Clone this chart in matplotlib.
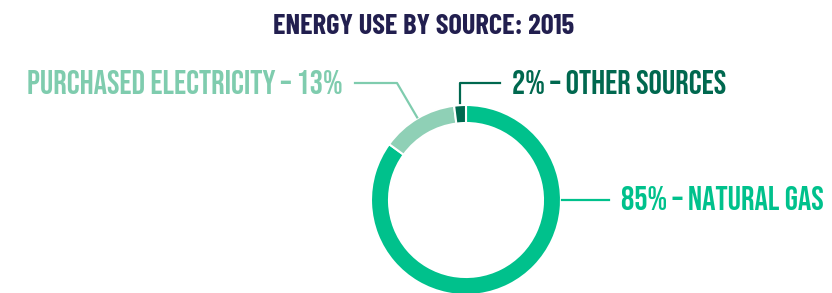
"""
Donut chart of energy use by source for 2015, with leader-line labels.
"""

from matplotlib import pyplot as plt
import numpy as np

# data
sources = ['Natural Gas', 'Purchased Electricity', 'Other Sources']
shares = [85, 13, 2]
labels = ['85% – NATURAL GAS', 'PURCHASED ELECTRICITY – 13%',
          '2% – OTHER SOURCES']
colors = ['#00C18C', '#8FD0B6', '#00684F']
text_colors = ['#00C18C', '#7FCCAE', '#00684F']
title = 'ENERGY USE BY SOURCE: 2015'

W, H = 832, 293
LABEL_FONT = ['Bebas Neue', 'DejaVu Sans']
TITLE_FONT = ['Barlow Condensed', 'DejaVu Sans']

fig = plt.figure(figsize=(W / 100, H / 100), dpi=100)
ax = fig.add_axes([0, 0, 1, 1])

# the donut, centre and radius in pixels
cx, cy, radius = 466, H - 200, 95
wedges, _ = ax.pie(shares, colors=colors, startangle=90, counterclock=False,
                   center=(cx, cy), radius=radius, frame=True,
                   wedgeprops=dict(width=18, edgecolor='white', linewidth=1.5))
ax.set_xlim(0, W)
ax.set_ylim(0, H)
ax.set_aspect('equal')
ax.axis('off')


def edge_point(theta_deg, r):
    t = np.deg2rad(theta_deg)
    return cx + r * np.cos(t), cy + r * np.sin(t)


label_kw = dict(fontsize=24, family=LABEL_FONT, va='baseline')

# natural gas: horizontal line from the right edge
x0, y0 = edge_point(0, radius + 1)
ax.plot([x0, 609], [y0, y0], color=text_colors[0], lw=1.6)
ax.text(621, H - 209.5, labels[0], color=text_colors[0], ha='left',
        **label_kw)

# purchased electricity: diagonal then horizontal to the left
w = wedges[1]
x0, y0 = edge_point((w.theta1 + w.theta2) / 2, radius + 1)
ax.plot([x0, 397, 355], [y0, H - 83, H - 83], color=text_colors[1], lw=1.6)
ax.text(343, H - 94.5, labels[1], color=text_colors[1], ha='right',
        **label_kw)

# other sources: vertical then horizontal to the right
w = wedges[2]
x0, y0 = edge_point((w.theta1 + w.theta2) / 2, radius + 2)
ax.plot([x0, x0, 500], [y0, H - 83, H - 83], color=text_colors[2], lw=1.6)
ax.text(512, H - 94.5, labels[2], color=text_colors[2], ha='left',
        **label_kw)

# title
ax.text(423.5, H - 34, title, color='#221F4F', ha='center', va='baseline',
        fontsize=20.5, fontweight='bold', family=TITLE_FONT)

fig.savefig('out.png', dpi=100)
